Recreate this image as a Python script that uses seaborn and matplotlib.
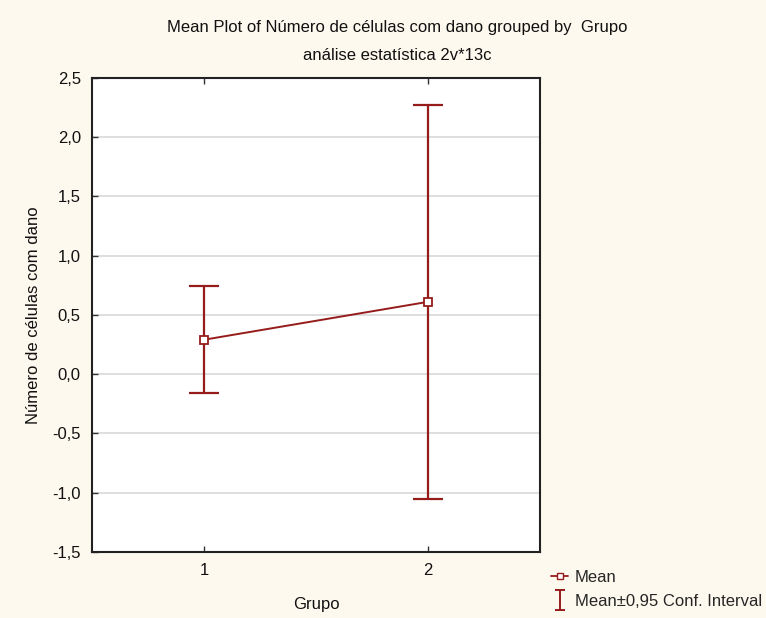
import seaborn as sns
import matplotlib.pyplot as plt
import pandas as pd
from matplotlib.ticker import FuncFormatter
from matplotlib.lines import Line2D
from matplotlib.path import Path

# Data
grupos = ['1', '2']
medias = [0.29, 0.61]
ic95 = [0.45, 1.665]
y_ticks = [-1.5, -1.0, -0.5, 0.0, 0.5, 1.0, 1.5, 2.0, 2.5]

df = pd.DataFrame({'Grupo': grupos, 'Media': medias, 'IC': ic95})

cor = '#961c1c'
fundo = '#fef9ee'
fs = 12

sns.set_style("white")
plt.rcParams['font.family'] = ['Liberation Sans', 'DejaVu Sans']
plt.rcParams['font.size'] = fs

fig = plt.figure(figsize=(7.66, 6.18), dpi=100, facecolor=fundo)
ax = fig.add_axes([0.120, 0.107, 0.585, 0.767])
ax.set_facecolor('white')

# mean line with square markers
sns.pointplot(data=df, x='Grupo', y='Media', errorbar=None, color=cor,
              markers='s', linestyles='-', markersize=6, linewidth=1.4,
              markerfacecolor='white', markeredgewidth=1.3, ax=ax)
# confidence interval bars
ax.errorbar(range(len(grupos)), df['Media'], yerr=df['IC'], fmt='none',
            ecolor=cor, elinewidth=1.6, capsize=11, capthick=1.6, zorder=1)

ax.set_xlim(-0.5, 1.5)
ax.set_ylim(-1.5, 2.5)
ax.set_yticks(y_ticks)
ax.yaxis.set_major_formatter(FuncFormatter(lambda v, p: f"{v:.1f}".replace('.', ',')))
ax.grid(axis='y', color='#d8d8d8', linewidth=1.2)
ax.set_axisbelow(True)
ax.tick_params(axis='both', direction='in', length=4, width=1, color='#333333',
               labelsize=fs, labelcolor='#111111', pad=6)
ax.tick_params(axis='x', top=True, bottom=True, pad=8)
ax.tick_params(axis='y', left=True, right=False, pad=8)
for s in ax.spines.values():
    s.set_color('#222222')
    s.set_linewidth(1.5)

ax.set_xlabel('Grupo', fontsize=fs, labelpad=14, color='#111111')
ax.set_ylabel('Número de células com dano', fontsize=fs, labelpad=8, color='#111111')

fig.text(0.518, 0.956, 'Mean Plot of Número de células com dano grouped by  Grupo',
         ha='center', va='center', fontsize=fs, color='#111111')
fig.text(0.518, 0.911, 'análise estatística 2v*13c', ha='center', va='center',
         fontsize=fs, color='#111111')

# legend handles
i_path = Path([(-0.5, 1), (0.5, 1), (0, 1), (0, -1), (-0.5, -1), (0.5, -1)],
              [Path.MOVETO, Path.LINETO, Path.MOVETO, Path.LINETO, Path.MOVETO, Path.LINETO])
h_mean = Line2D([], [], color=cor, marker='s', markersize=5, markerfacecolor='white',
                linewidth=1.3)
h_ic = Line2D([], [], color=cor, marker=i_path, markersize=14, markeredgewidth=1.4,
              linestyle='none')
fig.legend([h_mean, h_ic], ['Mean', 'Mean±0,95 Conf. Interval'],
           loc='lower left', bbox_to_anchor=(0.700, -0.01), frameon=False,
           fontsize=fs, handlelength=1.0, handletextpad=0.4, labelspacing=0.55)

fig.savefig('out.png', dpi=100, facecolor=fundo)
